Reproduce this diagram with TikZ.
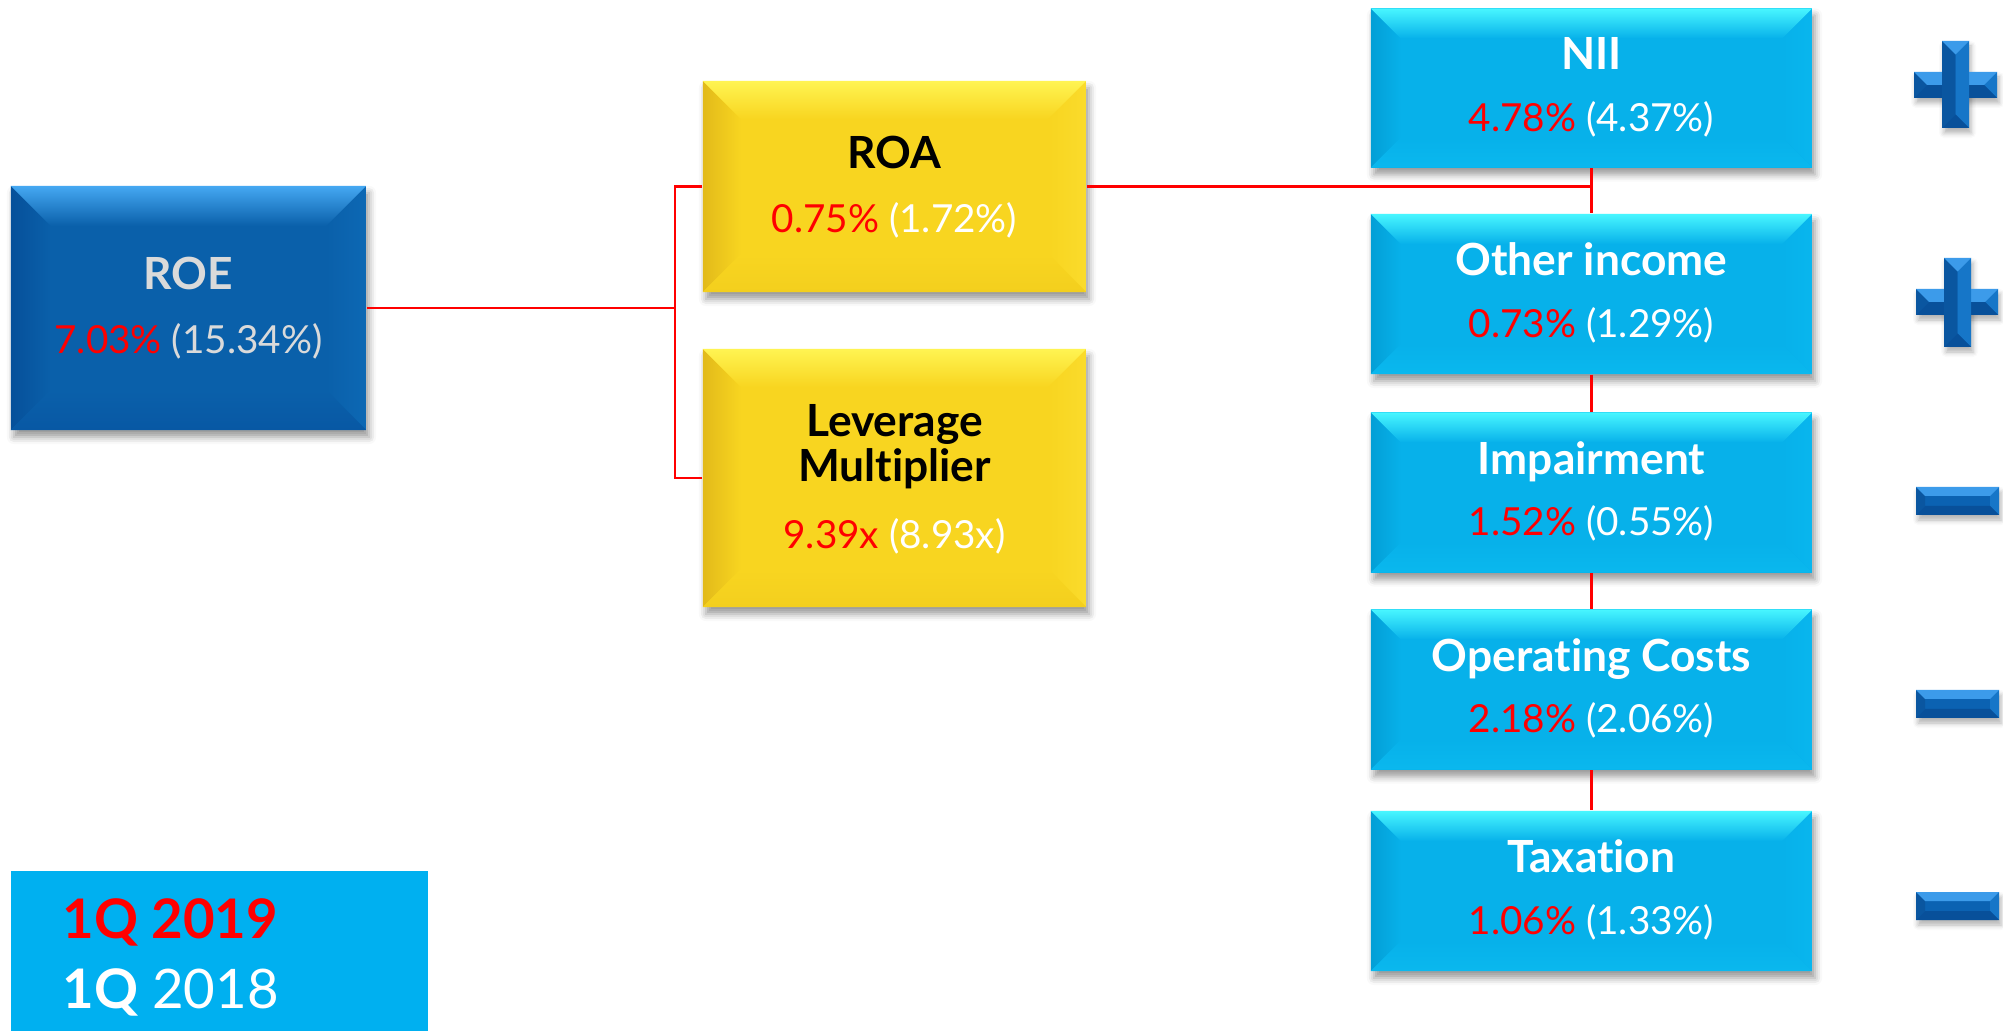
\documentclass[tikz,border=0pt]{standalone}
\usepackage{fontspec}
\setmainfont{Lato}[Ligatures=NoCommon]
\usetikzlibrary{shadows.blur}

\definecolor{nowred}{HTML}{FF0000}
\definecolor{roeblue}{HTML}{0A60AA}
\definecolor{roetop}{HTML}{45A8F2}
\definecolor{roeleft}{HTML}{06509A}
\definecolor{roebot}{HTML}{0858A4}
\definecolor{roeright}{HTML}{0D68B4}
\definecolor{roetext}{HTML}{DADADA}
\definecolor{ratioyellow}{HTML}{F8D520}
\definecolor{ratiotop}{HTML}{FFF452}
\definecolor{ratioleft}{HTML}{E2BA1A}
\definecolor{ratiobot}{HTML}{F3CF1E}
\definecolor{ratioright}{HTML}{FADB2C}
\definecolor{itemcyan}{HTML}{07B1EA}
\definecolor{itemtop}{HTML}{48F6FF}
\definecolor{itemleft}{HTML}{039FD6}
\definecolor{itembot}{HTML}{0AB8EE}
\definecolor{itemright}{HTML}{09B6EE}
\definecolor{legendcyan}{HTML}{00B0F0}
\definecolor{signbase}{HTML}{0B62B2}
\definecolor{signtop}{HTML}{3C9BEA}
\definecolor{signbot}{HTML}{08509A}
\definecolor{signleft}{HTML}{0A56A0}
\definecolor{signright}{HTML}{1676C8}

\tikzset{
  bevel/.style n args={6}{% width, base, top, left, bottom, right
    fill=#2,
    path picture={
      \path (path picture bounding box.north west) coordinate (pa)
            (path picture bounding box.north east) coordinate (pb)
            (path picture bounding box.south east) coordinate (pc)
            (path picture bounding box.south west) coordinate (pd)
            ([shift={(#1,-#1)}]pa) coordinate (qa)
            ([shift={(-#1,-#1)}]pb) coordinate (qb)
            ([shift={(-#1,#1)}]pc) coordinate (qc)
            ([shift={(#1,#1)}]pd) coordinate (qd);
      \shade[left color=#4, right color=#2] (pa) -- (qa) -- (qd) -- (pd) -- cycle;
      \shade[right color=#6, left color=#2] (pb) -- (qb) -- (qc) -- (pc) -- cycle;
      \shade[bottom color=#5, top color=#2] (pd) -- (qd) -- (qc) -- (pc) -- cycle;
      \shade[top color=#3, bottom color=#2] (pa) -- (pb) -- (qb) -- (qa) -- cycle;
    }},
  boxshadow/.style={blur shadow={shadow xshift=0.03cm, shadow yshift=-0.07cm,
      shadow blur radius=0.07cm, shadow opacity=40}},
  roebox/.style={rectangle, inner sep=0pt, minimum width=3.55cm, minimum height=2.44cm,
      boxshadow, bevel={0.4cm}{roeblue}{roetop}{roeleft}{roebot}{roeright}},
  ratiobox/.style={rectangle, inner sep=0pt, minimum width=3.83cm,
      boxshadow, bevel={0.38cm}{ratioyellow}{ratiotop}{ratioleft}{ratiobot}{ratioright}},
  itembox/.style={rectangle, inner sep=0pt, minimum width=4.41cm, minimum height=1.6cm,
      boxshadow, bevel={0.3cm}{itemcyan}{itemtop}{itemleft}{itembot}{itemright}},
  ttl/.style={font=\fontsize{12.6}{15}\selectfont\bfseries, anchor=base, inner sep=0pt},
  val/.style={font=\fontsize{11}{13}\selectfont, anchor=base, inner sep=0pt},
  link/.style={nowred, line width=0.7pt},
  signshadow/.style={blur shadow={shadow xshift=0.02cm, shadow yshift=-0.05cm,
      shadow blur radius=0.05cm, shadow opacity=30}},
}

% value now (red) and a year before (in brackets)
\newcommand{\nowthen}[3]{\textcolor{nowred}{#1} \textcolor{#3}{(#2)}}

% bevelled bar of a plus or minus sign: x1, y1, x2, y2, bevel
\newcommand{\signbar}[5]{%
  \fill[signbase] (#1,#2) rectangle (#3,#4);
  \fill[signleft] (#1,#2) -- ({#1+#5},{#2+#5}) -- ({#1+#5},{#4-#5}) -- (#1,#4) -- cycle;
  \fill[signright] (#3,#2) -- ({#3-#5},{#2+#5}) -- ({#3-#5},{#4-#5}) -- (#3,#4) -- cycle;
  \fill[signbot] (#1,#4) -- (#3,#4) -- ({#3-#5},{#4-#5}) -- ({#1+#5},{#4-#5}) -- cycle;
  \fill[signtop] (#1,#2) -- (#3,#2) -- ({#3-#5},{#2+#5}) -- ({#1+#5},{#2+#5}) -- cycle;
}

\begin{document}
\begin{tikzpicture}[x=0.01cm,y=-0.01cm]
  \useasboundingbox (0,0) rectangle (2003,1031);

  % ROE and its two factors
  \node[roebox] (roe) at (188.5,308) {};
  \node[ratiobox, minimum height=2.11cm] (roa) at (894.5,186.5) {};
  \node[ratiobox, minimum height=2.58cm] (lev) at (894.5,478) {};

  \node[ttl, text=roetext] (roe-t) at ([yshift=0.18cm]roe.center) {ROE};
  \node[val] (roe-v) at ([yshift=-0.45cm]roe.center) {\nowthen{7.03\%}{15.34\%}{roetext}};
  \node[ttl, text=black] (roa-t) at ([yshift=0.175cm]roa.center) {ROA};
  \node[val] (roa-v) at ([yshift=-0.455cm]roa.center) {\nowthen{0.75\%}{1.72\%}{white}};
  \node[ttl, text=black] (lev-t1) at ([yshift=0.41cm]lev.center) {Leverage};
  \node[ttl, text=black] (lev-t2) at ([yshift=-0.04cm]lev.center) {Multiplier};
  \node[val] (lev-v) at ([yshift=-0.70cm]lev.center) {\nowthen{9.39x}{8.93x}{white}};

  % ROA drivers
  \node[itembox, minimum height=1.59cm] (nii) at (1591.5,88) {};
  \node[itembox] (oi) at (1591.5,294) {};
  \node[itembox] (imp) at (1591.5,492.5) {};
  \node[itembox] (opc) at (1591.5,689.5) {};
  \node[itembox] (tax) at (1591.5,891) {};

  \node[ttl, text=white] (nii-t) at ([yshift=0.18cm]nii.center) {NII};
  \node[val] (nii-v) at ([yshift=-0.43cm]nii.center) {\nowthen{4.78\%}{4.37\%}{white}};
  \node[ttl, text=white] (oi-t) at ([yshift=0.18cm]oi.center) {Other income};
  \node[val] (oi-v) at ([yshift=-0.43cm]oi.center) {\nowthen{0.73\%}{1.29\%}{white}};
  \node[ttl, text=white] (imp-t) at ([yshift=0.18cm]imp.center) {Impairment};
  \node[val] (imp-v) at ([yshift=-0.43cm]imp.center) {\nowthen{1.52\%}{0.55\%}{white}};
  \node[ttl, text=white] (opc-t) at ([yshift=0.18cm]opc.center) {Operating Costs};
  \node[val] (opc-v) at ([yshift=-0.43cm]opc.center) {\nowthen{2.18\%}{2.06\%}{white}};
  \node[ttl, text=white] (tax-t) at ([yshift=0.18cm]tax.center) {Taxation};
  \node[val] (tax-v) at ([yshift=-0.43cm]tax.center) {\nowthen{1.06\%}{1.33\%}{white}};

  % connectors
  \coordinate (split) at (675,308);
  \draw[link] (roe.east) -- (split);
  \draw[link] (roa.west) -| (split);
  \draw[link] (lev.west) -| (split);
  \draw[link] (roa.east) -- (roa.east -| nii.south);
  \draw[link] (nii) -- (oi);
  \draw[link] (oi) -- (imp);
  \draw[link] (imp) -- (opc);
  \draw[link] (opc) -- (tax);

  % plus signs
  \path[signshadow] (1914,72) rectangle (1997,98);
  \path[signshadow] (1942,41) rectangle (1969,128);
  \signbar{1914}{72}{1997}{98}{13}
  \signbar{1942}{41}{1969}{128}{13.5}
  \path[signshadow] (1916,289) rectangle (1998,315);
  \path[signshadow] (1944,258) rectangle (1971,347);
  \signbar{1916}{289}{1998}{315}{13}
  \signbar{1944}{258}{1971}{347}{13.5}

  % minus signs
  \foreach \y in {501,704,906} {
    \path[signshadow] (1916,\y-14) rectangle (1999,\y+14);
    \signbar{1916}{\y-14}{1999}{\y+14}{9}
  }

  % legend
  \fill[legendcyan] (11,871) rectangle (428,1031);
  \node[anchor=base west, inner sep=0pt, font=\fontsize{15.5}{18}\selectfont\bfseries,
    text=nowred] (leg-now) at (62,938) {1Q 2019};
  \node[anchor=base west, inner sep=0pt, font=\fontsize{15.5}{18}\selectfont,
    text=white] (leg-then) at (62,1008) {\textbf{1Q} 2018};
\end{tikzpicture}
\end{document}
